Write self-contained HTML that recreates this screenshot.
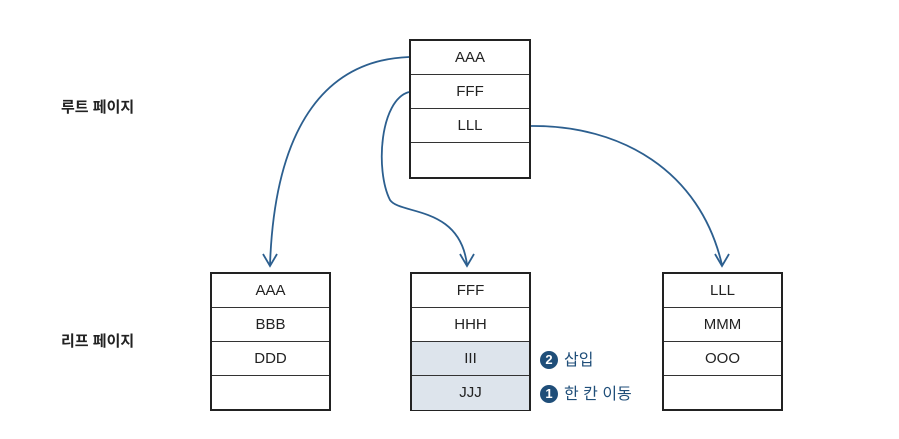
<!DOCTYPE html>
<html><head><meta charset="utf-8"><style>
body{margin:0;background:#fff;width:899px;height:439px;overflow:hidden;font-family:"Liberation Sans","Noto Sans CJK KR",sans-serif}
.box{position:absolute;border:2.5px solid #222;box-sizing:border-box;background:#fff}
.row{height:34px;border-bottom:1.5px solid #333;box-sizing:border-box;text-align:center;line-height:33px;font-size:15px;color:#222}
.row:last-child{border-bottom:none}
.g{background:#dde4ec}
.lbl{position:absolute;font-weight:bold;font-size:15px;color:#222}
.note{position:absolute;font-size:16px;color:#1f4e79}
.c{display:inline-block;width:18px;height:18px;border-radius:50%;background:#1f4e79;color:#fff;font-size:13px;font-weight:bold;line-height:18px;text-align:center;margin-right:6px;vertical-align:1px}
</style></head><body>
<div class="lbl" style="left:61px;top:96px">루트 페이지</div>
<div class="lbl" style="left:61px;top:330px">리프 페이지</div>
<div class="box" style="left:409px;top:39px;width:122px;height:140px">
<div class="row">AAA</div><div class="row">FFF</div><div class="row">LLL</div><div class="row"></div></div>
<div class="box" style="left:210px;top:272px;width:121px;height:139px">
<div class="row">AAA</div><div class="row">BBB</div><div class="row">DDD</div><div class="row"></div></div>
<div class="box" style="left:410px;top:272px;width:121px;height:139px">
<div class="row">FFF</div><div class="row">HHH</div><div class="row g">III</div><div class="row g">JJJ</div></div>
<div class="box" style="left:662px;top:272px;width:121px;height:139px">
<div class="row">LLL</div><div class="row">MMM</div><div class="row">OOO</div><div class="row"></div></div>
<div class="note" style="left:540px;top:346px"><span class="c">2</span>삽입</div>
<div class="note" style="left:540px;top:380px"><span class="c">1</span>한 칸 이동</div>
<svg width="899" height="439" style="position:absolute;left:0;top:0" fill="none" stroke="#2c5f8f" stroke-width="1.8">
<path d="M409 57 C330 60 275 120 270 265"/>
<path d="M263 254 L270 266 L277 254"/>
<path d="M409 92 C380 100 375 170 390 200 C400 215 460 205 467 265"/>
<path d="M460 254 L467 266 L474 254"/>
<path d="M531 126 C620 125 700 170 722 265"/>
<path d="M715 254 L722 266 L729 254"/>
</svg>
</body></html>
